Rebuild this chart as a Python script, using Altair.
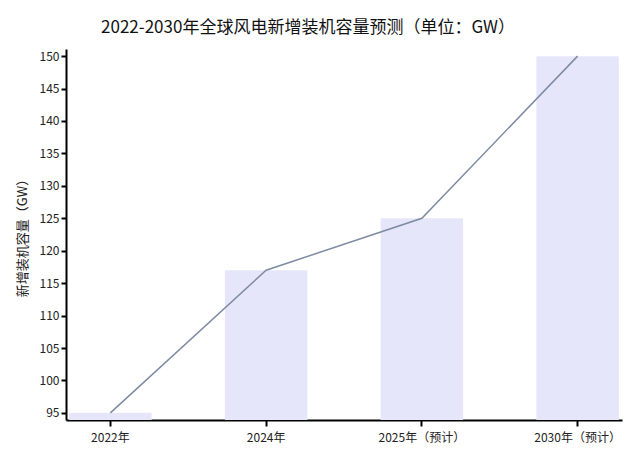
import altair as alt
import pandas as pd

years = ['2022年', '2024年', '2025年（预计）', '2030年（预计）']
capacity = [95, 117, 125, 150]
y_ticks = [95, 100, 105, 110, 115, 120, 125, 130, 135, 140, 145, 150]

df = pd.DataFrame({'year': years, 'capacity': capacity})

FONT = 'Noto Sans CJK SC'

x_enc = alt.X('year:N', sort=years, title=None,
              scale=alt.Scale(paddingInner=0.47, paddingOuter=0.02),
              axis=alt.Axis(labelAngle=0, labelFontSize=12, labelColor='#222',
                            domainColor='#000', domainWidth=2, tickColor='#000',
                            tickWidth=2, tickSize=6, labelPadding=6))
y_enc = alt.Y('capacity:Q', title='新增装机容量（GW）',
              scale=alt.Scale(domain=[93.9, 151.1], nice=False, zero=False),
              axis=alt.Axis(values=y_ticks, labelFontSize=12, labelColor='#222',
                            domainColor='#000', domainWidth=2, tickColor='#000',
                            tickWidth=2, tickSize=5, grid=False,
                            titleFontSize=13, titleFontWeight='normal',
                            titleColor='#222', titlePadding=10))

bars = alt.Chart(df).mark_bar(color='#e6e6fa', clip=True).encode(x=x_enc, y=y_enc)
line = alt.Chart(df).mark_line(color='#7f8aa3', strokeWidth=1.5).encode(x=x_enc, y=y_enc)

chart = alt.layer(bars, line).properties(
    width=556,
    height=371,
    autosize=alt.AutoSizeParams(type='none'),
    padding={'left': 58, 'top': 41, 'right': 10, 'bottom': 35},
    title=alt.TitleParams('2022-2030年全球风电新增装机容量预测（单位：GW）',
                          fontSize=17, fontWeight='normal', color='#111',
                          font=FONT, anchor='middle', dx=-36, offset=12),
).configure(font=FONT).configure_view(stroke=None)

chart.save('out.html', embed_options={'renderer': 'svg', 'actions': False})
